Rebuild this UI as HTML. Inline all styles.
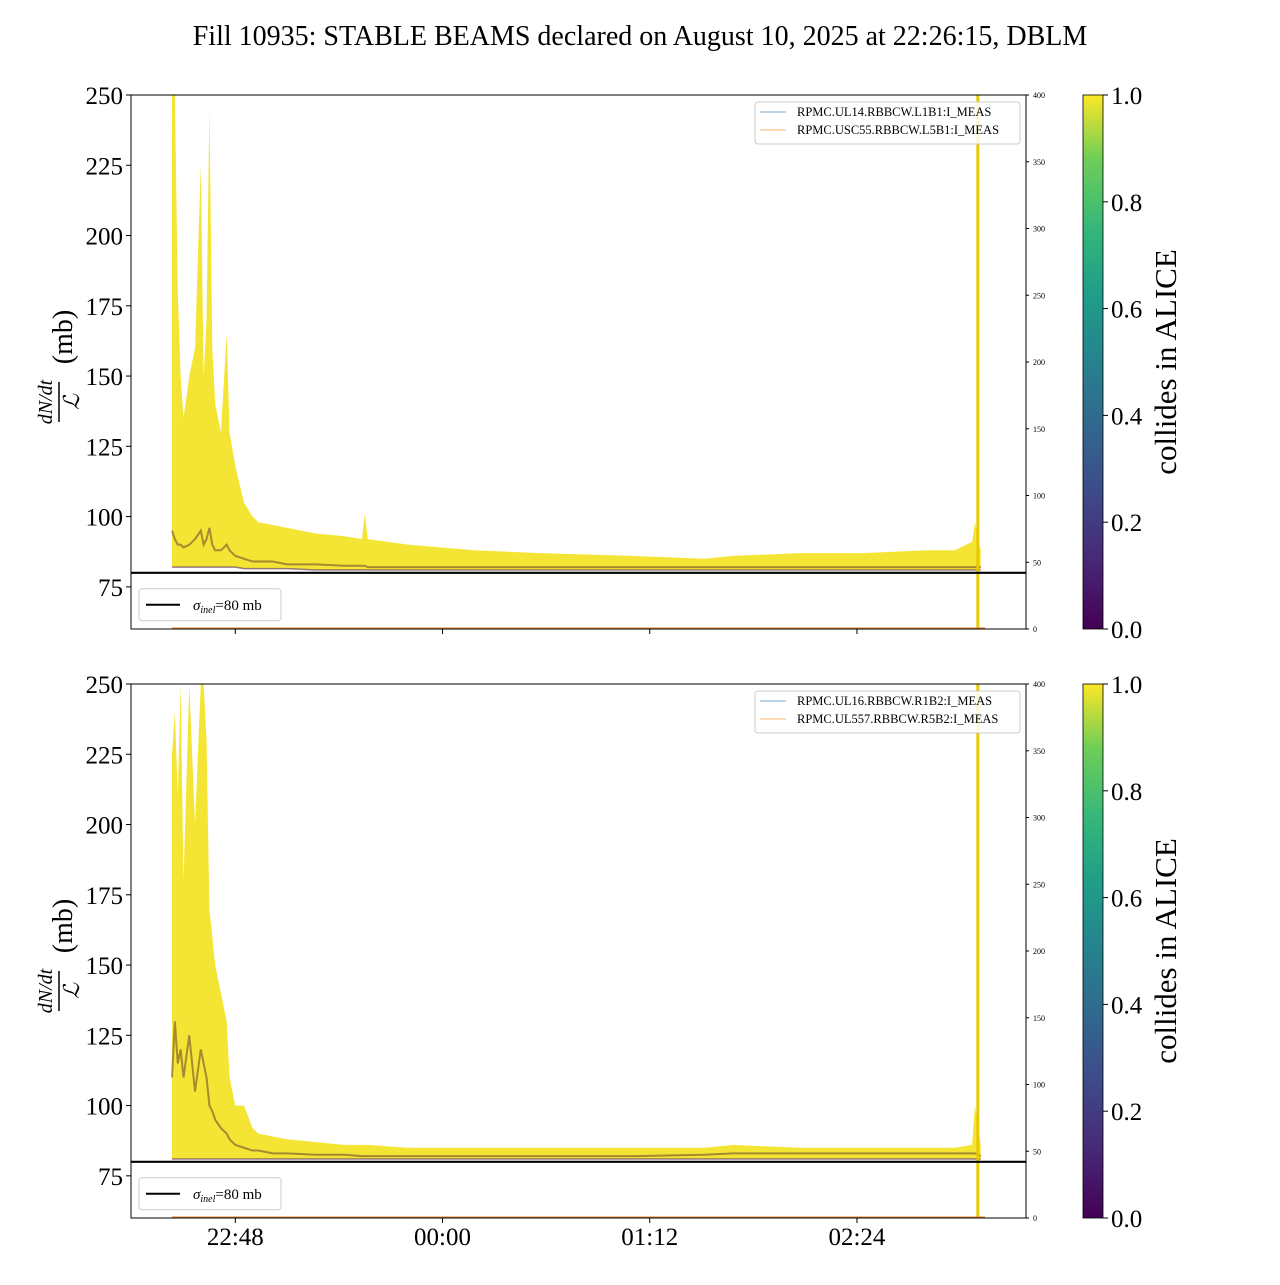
<!DOCTYPE html>
<html><head><meta charset="utf-8"><style>
body{margin:0;background:#fff;}
svg text{font-family:"Liberation Serif",serif;}
</style></head><body>
<svg id="chart" width="1280" height="1280" viewBox="0 0 1280 1280" xmlns="http://www.w3.org/2000/svg">
<defs>
<linearGradient id="vir" x1="0" y1="1" x2="0" y2="0">
<stop offset="0" stop-color="#440154"/><stop offset="0.13" stop-color="#482878"/><stop offset="0.25" stop-color="#3e4989"/><stop offset="0.38" stop-color="#31688e"/><stop offset="0.5" stop-color="#26828e"/><stop offset="0.63" stop-color="#1f9e89"/><stop offset="0.75" stop-color="#35b779"/><stop offset="0.88" stop-color="#6ece58"/><stop offset="1" stop-color="#fde725"/>
</linearGradient>
</defs>
<text x="640" y="45" font-size="28" text-anchor="middle">Fill 10935: STABLE BEAMS declared on August 10, 2025 at 22:26:15, DBLM</text>
<g id="panels"></g>
</svg>
<script>
// minutes after 22:26
const minutes = [0,1,2,3,4,6,8,10,11,12,13,14,15,17,19,20,22,25,28,30,35,40,50,60,66,67,68,82,105,128,160,185,195,218,240,262,272,278,279,281];
const topUpper = [250,250,180,150,135,150,160,225,150,170,245,160,140,130,165,130,118,105,100,98,97,96,94,93,92,101,92,90,88,87,86,85,86,87,87,88,88,91,98,88];
const topMid   = [95,92,90,90,89,90,92,95,90,92,96,90,88,88,90,88,86,85,84,84,84,83,83,82.5,82.5,82.5,82,82,82,82,82,82,82,82,82,82,82,82,82,82];
const topLower = [82,82,82,82,82,82,82,82,82,82,82,82,82,82,82,82,82,81.5,81.5,81.5,81.5,81.5,81,81,81,81,81,81,81,81,81,81,81,81,81,81,81,81,81,81];
const botUpper = [225,240,210,250,180,250,200,250,250,230,170,160,150,140,130,110,100,100,92,90,89,88,87,86,86,86,86,85,85,85,85,85,86,85,85,85,85,86,100,86];
const botMid   = [110,130,115,120,110,125,105,120,115,110,100,98,95,92,90,88,86,85,84,84,83,83,82.5,82.5,82,82,82,82,82,82,82,82.5,83,83,83,83,83,83,83,82];
const botLower = [81,81,81,81,81,81,81,81,81,81,81,81,81,81,81,81,81,81,81,81,81,81,81,81,81,81,81,81,81,81,81,81,81,81,81,81,81,81,81,81];
const yTicks = [75,100,125,150,175,200,225,250];
const rTicks = [0,50,100,150,200,250,300,350,400];
const cTicks = [0.0,0.2,0.4,0.6,0.8,1.0];
const xTickMin = [22,94,166,238];
const xTickLabels = ["22:48","00:00","01:12","02:24"];
const endMinute = 280;
const sigma = 80;

const NS="http://www.w3.org/2000/svg";
const root=document.getElementById('panels');
function mk(tag,attrs,parent){const e=document.createElementNS(NS,tag);for(const k in attrs)e.setAttribute(k,attrs[k]);(parent||root).appendChild(e);return e;}
const X0=131,X1=1026;
function xs(m){return 172+m*2.878;}
function panel(top,upper,mid,lower,leg1,leg2,showX,idx){
  const bot=top+534;
  const ys=v=>bot-(v-60)/190*534;
  const rs=v=>bot-v/400*534;
  const g=mk('g',{});
  
  
  let pts=minutes.map((m,i)=>xs(m)+','+ys(Math.min(upper[i],250))).join(' ');
  pts+=' '+minutes.slice().reverse().map((m,j)=>{const i=minutes.length-1-j;return xs(m)+','+ys(lower[i]);}).join(' ');
  const band=mk('polygon',{points:pts,fill:'#f3e21f','fill-opacity':'0.9'},g);
  
  
  const midl=mk('polyline',{points:minutes.map((m,i)=>xs(m)+','+ys(mid[i])).join(' '),fill:'none',stroke:'#6b3d2e','stroke-width':2,'stroke-opacity':0.55},g);
  
  
  const lowl=mk('polyline',{points:minutes.map((m,i)=>xs(m)+','+ys(lower[i])).join(' '),fill:'none',stroke:'#5a2a5a','stroke-width':1.5,'stroke-opacity':0.6},g);
  
  
  const vl=mk('line',{x1:xs(endMinute),x2:xs(endMinute),y1:top,y2:bot,stroke:'#e8c800','stroke-width':3},g);
  
  
  mk('line',{x1:172,x2:985,y1:rs(0)-1,y2:rs(0)-1,stroke:'#e08030','stroke-width':1},g);
  const sl=mk('line',{x1:X0,x2:X1,y1:ys(sigma),y2:ys(sigma),stroke:'#000','stroke-width':2.2},g);
  
  
  mk('rect',{x:X0,y:top,width:X1-X0,height:bot-top,fill:'none',stroke:'#000','stroke-width':1},g);
  yTicks.forEach(v=>{mk('line',{x1:X0-5,x2:X0,y1:ys(v),y2:ys(v),stroke:'#000'},g);
    const t=mk('text',{x:X0-8,y:ys(v)+9,'font-size':25,'text-anchor':'end'},g);t.textContent=v;
    });
  rTicks.forEach(v=>{mk('line',{x1:X1,x2:X1+3,y1:rs(v),y2:rs(v),stroke:'#000'},g);
    const t=mk('text',{x:X1+7,y:rs(v)+3,'font-size':8},g);t.textContent=v;
    });
  xTickMin.forEach((m,i)=>{mk('line',{x1:xs(m),x2:xs(m),y1:bot,y2:bot+5,stroke:'#000'},g);
    if(showX){const t=mk('text',{x:xs(m),y:bot+27,'font-size':25,'text-anchor':'middle'},g);t.textContent=xTickLabels[i];
    }});
  const yl=mk('g',{transform:`translate(64,${top+267}) rotate(-90)`},g);
  
  
  let t=mk('text',{x:-40,y:-12,'font-size':20,'font-style':'italic','text-anchor':'middle'},yl);t.textContent='dN/dt';
  mk('line',{x1:-60,x2:-20,y1:-5,y2:-5,stroke:'#000','stroke-width':1.5},yl);
  t=mk('text',{x:-40,y:15,'font-size':22,'font-style':'italic','text-anchor':'middle'},yl);t.textContent='ℒ';
  t=mk('text',{x:25,y:8,'font-size':28,'text-anchor':'middle'},yl);t.textContent='(mb)';
  const lg=mk('g',{},g);
  
  
  mk('rect',{x:139,y:ys(sigma)+16,width:142,height:32,rx:3,fill:'#fff',stroke:'#ccc'},lg);
  mk('line',{x1:146,x2:180,y1:ys(sigma)+32,y2:ys(sigma)+32,stroke:'#000','stroke-width':2},lg);
  t=mk('text',{x:193,y:ys(sigma)+37,'font-size':15},lg);
  t.innerHTML='<tspan font-style="italic">σ</tspan><tspan font-style="italic" font-size="10" dy="3">inel</tspan><tspan dy="-3">=80 mb</tspan>';
  const l2=mk('g',{},g);
  
  
  mk('rect',{x:755,y:top+7,width:265,height:42,rx:3,fill:'#fff','fill-opacity':0.85,stroke:'#ccc'},l2);
  mk('line',{x1:760,x2:786,y1:top+17,y2:top+17,stroke:'#1f77b4','stroke-opacity':0.6},l2);
  mk('line',{x1:760,x2:786,y1:top+35,y2:top+35,stroke:'#ff7f0e','stroke-opacity':0.6},l2);
  t=mk('text',{x:797,y:top+21,'font-size':12.5},l2);t.textContent=leg1;
  t=mk('text',{x:797,y:top+39,'font-size':12.5},l2);t.textContent=leg2;
  const cb=mk('g',{},g);
  
  
  mk('rect',{x:1083,y:top,width:20,height:bot-top,fill:'url(#vir)',stroke:'#000','stroke-width':0.8},cb);
  cTicks.forEach(v=>{const y=bot-v*534;mk('line',{x1:1103,x2:1108,y1:y,y2:y,stroke:'#000'},cb);
    const tt=mk('text',{x:1111,y:y+9,'font-size':25},cb);tt.textContent=v.toFixed(1);});
  t=mk('text',{x:0,y:0,'font-size':31,'text-anchor':'middle',transform:`translate(1176,${top+267}) rotate(-90)`},cb);t.textContent='collides in ALICE';
  
}
panel(95,topUpper,topMid,topLower,'RPMC.UL14.RBBCW.L1B1:I_MEAS','RPMC.USC55.RBBCW.L5B1:I_MEAS',false,'top');
panel(684,botUpper,botMid,botLower,'RPMC.UL16.RBBCW.R1B2:I_MEAS','RPMC.UL557.RBBCW.R5B2:I_MEAS',true,'bottom');
</script>
</body></html>
